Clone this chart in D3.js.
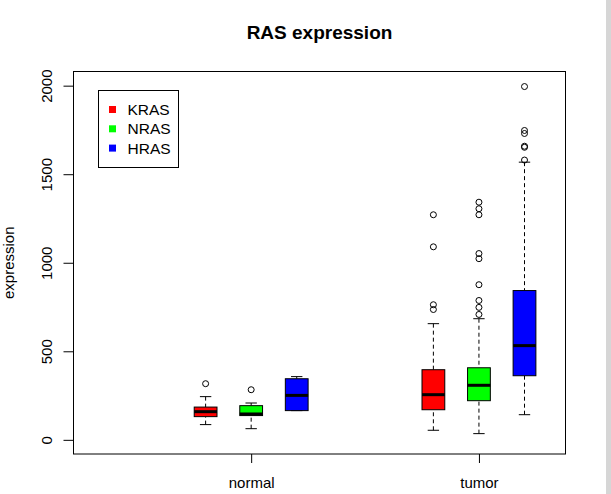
<!DOCTYPE html>
<html>
<head>
<meta charset="utf-8">
<script src="https://cdn.jsdelivr.net/npm/d3@7"></script>
<style>
  html, body { margin: 0; padding: 0; background: #fff; }
  svg { display: block; font-family: "Liberation Sans", Arial, sans-serif; }
</style>
</head>
<body>
<svg id="chart" width="611" height="494"></svg>
<script>
// ---- data ----
const groups = ["normal", "tumor"];
const genes = ["KRAS", "NRAS", "HRAS"];
const geneColors = ["#FF0000", "#00FF00", "#0000FF"];
const yTicks = [0, 500, 1000, 1500, 2000];

// per box (normal KRAS, NRAS, HRAS, tumor KRAS, NRAS, HRAS)
const boxGroup = ["normal", "normal", "normal", "tumor", "tumor", "tumor"];
const boxGene = ["KRAS", "NRAS", "HRAS", "KRAS", "NRAS", "HRAS"];
const boxPos = [1, 2, 3, 6, 7, 8];
const lowWhisker = [86, 63, 165, 54, 35, 142];
const q1 = [131, 137, 165, 170, 221, 362];
const median = [159, 146, 251, 255, 308, 532];
const q3 = [185, 193, 345, 396, 407, 843];
const highWhisker = [244, 208, 357, 656, 684, 1568];
const outliers = [
  [317],
  [283],
  [],
  [1271, 1090, 763, 736],
  [1342, 1305, 1271, 1052, 1023, 876, 787, 748, 708],
  [1995, 1747, 1730, 1658, 1652, 1580]
];
const groupTickPos = [2, 7];

// ---- layout ----
const svg = d3.select("#chart");
const plot = { left: 73.5, right: 565.5, top: 71.5, bottom: 454 };

const x = d3.scaleLinear().domain([-1.9, 8.9]).range([plot.left, plot.right]);
const y = d3.scaleLinear().domain([-80, 2080]).range([plot.bottom, plot.top]);
const boxHalf = 0.25;

// background strip at right edge
svg.append("rect").attr("x", 606).attr("y", 0).attr("width", 5).attr("height", 494)
  .attr("fill", "#d6d6d6");

// title
svg.append("text").attr("x", (plot.left + plot.right) / 2).attr("y", 39)
  .attr("text-anchor", "middle").attr("font-size", 19).attr("font-weight", "bold")
  .text("RAS expression");

// boxes
const g = svg.append("g");
boxPos.forEach((p, i) => {
  const cx = x(p);
  const bx0 = x(p - boxHalf), bx1 = x(p + boxHalf);
  const cap0 = x(p - boxHalf / 2), cap1 = x(p + boxHalf / 2);
  const col = geneColors[genes.indexOf(boxGene[i])];
  // whiskers
  g.append("line").attr("x1", cx).attr("x2", cx)
    .attr("y1", y(highWhisker[i])).attr("y2", y(q3[i]))
    .attr("stroke", "#000").attr("stroke-dasharray", "4,3");
  g.append("line").attr("x1", cx).attr("x2", cx)
    .attr("y1", y(lowWhisker[i])).attr("y2", y(q1[i]))
    .attr("stroke", "#000").attr("stroke-dasharray", "4,3");
  g.append("line").attr("x1", cap0).attr("x2", cap1)
    .attr("y1", y(highWhisker[i])).attr("y2", y(highWhisker[i])).attr("stroke", "#000");
  g.append("line").attr("x1", cap0).attr("x2", cap1)
    .attr("y1", y(lowWhisker[i])).attr("y2", y(lowWhisker[i])).attr("stroke", "#000");
  // box
  g.append("rect").attr("x", bx0).attr("y", y(q3[i]))
    .attr("width", bx1 - bx0).attr("height", y(q1[i]) - y(q3[i]))
    .attr("fill", col).attr("stroke", "#000").attr("stroke-width", 1);
  // median
  g.append("line").attr("x1", bx0).attr("x2", bx1)
    .attr("y1", y(median[i])).attr("y2", y(median[i]))
    .attr("stroke", "#000").attr("stroke-width", 3);
  // outliers
  outliers[i].forEach(v => {
    g.append("circle").attr("cx", cx).attr("cy", y(v)).attr("r", 3)
      .attr("fill", "none").attr("stroke", "#000").attr("stroke-width", 1);
  });
});

// plot frame
svg.append("rect").attr("x", plot.left).attr("y", plot.top)
  .attr("width", plot.right - plot.left).attr("height", plot.bottom - plot.top)
  .attr("fill", "none").attr("stroke", "#000").attr("stroke-width", 1);

// y axis
const yAxis = svg.append("g").attr("transform", `translate(${plot.left},0)`)
  .call(d3.axisLeft(y).tickValues(yTicks).tickSize(10).tickSizeOuter(0).tickFormat(d3.format("d")));
yAxis.select(".domain").remove();
yAxis.selectAll(".tick line").attr("stroke", "#000");
yAxis.selectAll(".tick text")
  .attr("font-size", 15).attr("font-family", "Liberation Sans, Arial, sans-serif")
  .attr("fill", "#000")
  .attr("text-anchor", "middle")
  .attr("x", null).attr("dy", null)
  .attr("transform", "translate(-22,0) rotate(-90)")
  .attr("y", 0);

// x axis
const xAxis = svg.append("g").attr("transform", `translate(0,${plot.bottom})`)
  .call(d3.axisBottom(x).tickValues(groupTickPos).tickSize(9).tickSizeOuter(0)
    .tickFormat((d, i) => groups[i]));
xAxis.select(".domain").remove();
xAxis.selectAll(".tick line").attr("stroke", "#000");
xAxis.selectAll(".tick text")
  .attr("font-size", 15).attr("font-family", "Liberation Sans, Arial, sans-serif")
  .attr("fill", "#000").attr("dy", null).attr("y", 34);

// y label
svg.append("text")
  .attr("transform", `translate(14,${(plot.top + plot.bottom) / 2}) rotate(-90)`)
  .attr("text-anchor", "middle").attr("font-size", 15)
  .text("expression");

// legend
const leg = svg.append("g");
leg.append("rect").attr("x", 98.5).attr("y", 90.5).attr("width", 80).attr("height", 77)
  .attr("fill", "#fff").attr("stroke", "#000");
genes.forEach((gname, i) => {
  const ly = 109.5 + i * 19.3;
  leg.append("rect").attr("x", 109).attr("y", ly - 3.5).attr("width", 7).attr("height", 7)
    .attr("fill", geneColors[i]);
  leg.append("text").attr("x", 127.5).attr("y", ly + 5.5).attr("font-size", 15.5)
    .text(gname);
});
</script>
</body>
</html>
